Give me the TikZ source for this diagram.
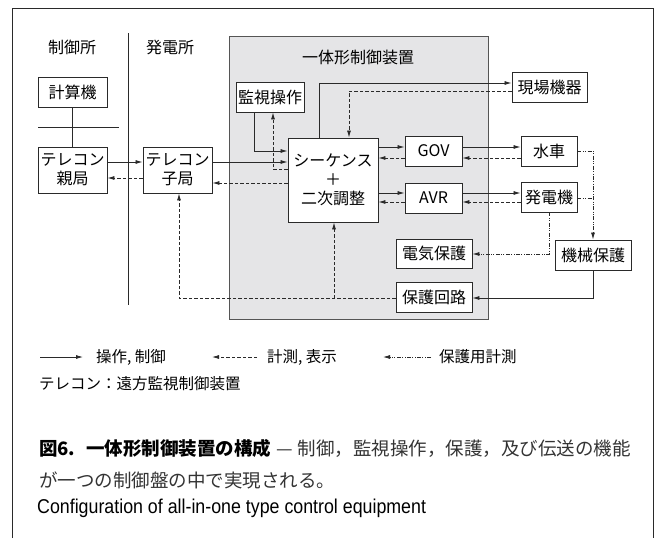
\documentclass[tikz,border=0pt]{standalone}
\usepackage{fontspec}
\usepackage{graphicx}
\setmainfont{Noto Sans CJK JP}
\newfontfamily\enfont{Liberation Sans}
\usetikzlibrary{arrows.meta}
\definecolor{panelgray}{HTML}{E5E5E7}
\definecolor{linegray}{HTML}{2A2A2A}
\definecolor{captext}{HTML}{333333}
\tikzset{
  box/.style={draw=linegray, fill=white, line width=0.9pt, inner sep=0pt, align=center, font=\fontsize{16}{19}\selectfont},
  lbl/.style={inner sep=0pt, font=\fontsize{16}{19}\selectfont},
  legtext/.style={anchor=west, inner sep=0pt, font=\fontsize{15.5}{18}\selectfont},
  ctl/.style={draw=linegray, line width=0.8pt, -{Latex[length=7pt,width=4pt]}},
  meas/.style={draw=linegray, line width=0.8pt, dash pattern=on 3.5pt off 2pt, -{Latex[length=7pt,width=4pt]}},
  prot/.style={draw=linegray, line width=0.8pt, dash pattern=on 4pt off 1.5pt on 0.8pt off 1.5pt on 0.8pt off 1.5pt, -{Latex[length=7pt,width=4pt]}},
  plain/.style={draw=linegray, line width=0.8pt},
}
\begin{document}
\begin{tikzpicture}[x=1pt,y=-1pt]
\useasboundingbox (0,0) rectangle (661,538);
% outer frame (open at bottom)
\draw[draw=linegray, line width=0.9pt] (12,538) -- (12,8) -- (653,8) -- (653,538);
% separator
\draw[plain] (128,33) -- (128,305);
% panel
\filldraw[fill=panelgray, draw=linegray!80, line width=0.9pt] (229,36) rectangle (488,319);
\node[lbl] (ttl) at (358,57) {一体形制御装置};
\node[lbl] (lctl) at (72,47) {制御所};
\node[lbl] (lpwr) at (170,47) {発電所};

% boxes
\node[box, minimum width=69pt, minimum height=30pt] (keisan) at (72.5,92) {計算機};
\node[box, minimum width=69pt, minimum height=46pt] (oya) at (72.5,170) {テレコン\\親局};
\node[box, minimum width=69pt, minimum height=46pt] (ko) at (177.5,170) {テレコン\\子局};
\node[box, minimum width=68pt, minimum height=30pt] (kanshi) at (270,97) {監視操作};
\node[box, minimum width=90pt, minimum height=84pt] (seq) at (333,180) {シーケンス\\＋\\二次調整};
\node[box, minimum width=75pt, minimum height=30pt] (genba) at (549.5,87) {現場機器};
\node[box, minimum width=57pt, minimum height=30pt] (gov) at (433.5,151) {GOV};
\node[box, minimum width=57pt, minimum height=30pt] (avr) at (433.5,198) {AVR};
\node[box, minimum width=56pt, minimum height=30pt] (suisha) at (549,151) {水車};
\node[box, minimum width=56pt, minimum height=30pt] (hatsu) at (549,197) {発電機};
\node[box, minimum width=76pt, minimum height=30pt] (kikai) at (593,255) {機械保護};
\node[box, minimum width=76pt, minimum height=29pt] (denki) at (434,253.5) {電気保護};
\node[box, minimum width=76pt, minimum height=30pt] (hogo) at (434,297) {保護回路};

% bus line and computer link
\draw[plain] (38,127) -- (119,127);
\draw[plain] (keisan.south) -- (oya.north);

% telecon links
\draw[ctl] (oya.east |- 0,162) -- (ko.west |- 0,162);
\draw[meas] (ko.west |- 0,178) -- (oya.east |- 0,178);
\draw[ctl] (ko.east |- 0,162) -- (seq.west |- 0,162);
\draw[meas] (seq.west |- 0,183) -- (ko.east |- 0,183);

% monitoring
\draw[ctl] (kanshi.south -| 254,0) |- (seq.west |- 0,151);
\draw[meas] (seq.west |- 0,169) -| (kanshi.south -| 273,0);

% field equipment
\draw[ctl] (seq.north -| 319,0) |- (genba.west |- 0,83);
\draw[meas] (genba.west |- 0,91) -| (seq.north -| 349,0);

% GOV / AVR
\draw[ctl] (seq.east |- 0,147) -- (gov.west |- 0,147);
\draw[meas] (gov.west |- 0,158) -- (seq.east |- 0,158);
\draw[ctl] (seq.east |- 0,193) -- (avr.west |- 0,193);
\draw[meas] (avr.west |- 0,202) -- (seq.east |- 0,202);
\draw[ctl] (gov.east |- 0,147) -- (suisha.west |- 0,147);
\draw[meas] (suisha.west |- 0,158) -- (gov.east |- 0,158);
\draw[ctl] (avr.east |- 0,193) -- (hatsu.west |- 0,193);
\draw[meas] (hatsu.west |- 0,202) -- (avr.east |- 0,202);

% protection measurement
\draw[prot] (suisha.east |- 0,151) -| (kikai.north);
\draw[prot, -] (hatsu.east |- 0,198) -- (593,198);
\draw[prot] (hatsu.south -| 549,0) |- (denki.east |- 0,254);
\draw[ctl] (kikai.south) |- (hogo.east |- 0,298);

% protection circuit to telecon and sequence
\draw[meas] (hogo.west |- 0,298) -| (ko.south -| 179,0);
\draw[meas] (334,298) -- (seq.south -| 334,0);

% legend
\coordinate (lga) at (40,357);
\coordinate (lgb) at (83,357);
\draw[ctl] (lga) -- (lgb);
\node[legtext] (lgt1) at (96,357) {操作, 制御};
\coordinate (lgc) at (257,357);
\coordinate (lgd) at (212,357);
\draw[meas] (lgc) -- (lgd);
\node[legtext] (lgt2) at (267,357) {計測, 表示};
\coordinate (lge) at (431,357);
\coordinate (lgf) at (383,357);
\draw[prot] (lge) -- (lgf);
\node[legtext] (lgt3) at (439,357) {保護用計測};

\node[legtext] (tele) at (39,384) {テレコン：遠方監視制御装置};

% caption
\node[anchor=west, inner sep=0pt, font=\fontsize{18.5}{22}\selectfont] (cap1) at (39,448) {{\bfseries 図6.\hspace{11pt}一体形制御装置の構成}\hspace{5pt}\textcolor{captext}{—\hspace{5pt}制御，監視操作，保護，及び伝送の機能}};
\node[anchor=west, inner sep=0pt, font=\fontsize{18.5}{22}\selectfont, text=captext] (cap2) at (39,480) {が一つの制御盤の中で実現される。};
\node[anchor=west, inner sep=0pt, font=\enfont\fontsize{20}{24}\selectfont] (cap3) at (37,508) {\scalebox{0.89}[1]{Configuration of all-in-one type control equipment}};
\end{tikzpicture}
\end{document}
